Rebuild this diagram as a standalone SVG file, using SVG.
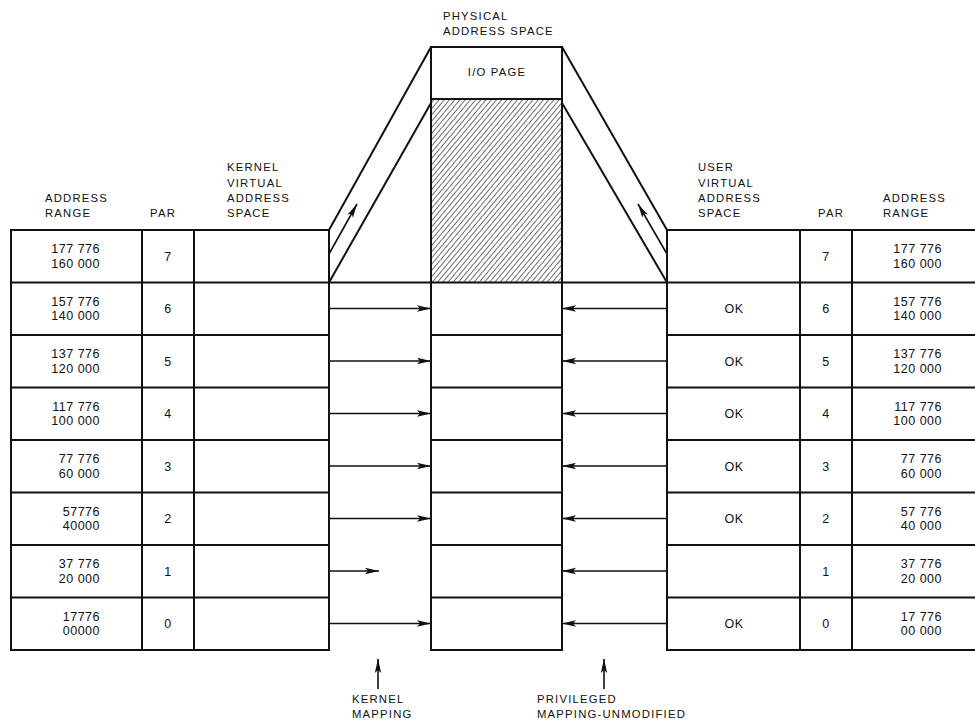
<svg xmlns="http://www.w3.org/2000/svg" width="975" height="723" viewBox="0 0 975 723">
<style>
.ln{stroke:#111;stroke-width:2;fill:none}
.ar{stroke:#111;stroke-width:1.6;fill:none;marker-end:url(#ah)}
.hd{font-family:"Liberation Sans",Arial,sans-serif;font-size:11.3px;letter-spacing:1.2px;fill:#111}
.num{font-family:"Liberation Sans",Arial,sans-serif;font-size:12.5px;letter-spacing:0.5px;fill:#111}
.c{text-anchor:middle}
.e{text-anchor:end}
</style>
<defs>
<marker id="ah" markerUnits="userSpaceOnUse" markerWidth="16" markerHeight="9" refX="14" refY="4" orient="auto">
<path d="M0,0.8 L14,4 L0,7.2 L3,4 z" fill="#111"/>
</marker>
<pattern id="hatch" patternUnits="userSpaceOnUse" width="4" height="4" patternTransform="rotate(40)">
<line x1="0" y1="0" x2="0" y2="4" stroke="#222" stroke-width="1.3"/>
</pattern>
</defs>
<rect width="975" height="723" fill="#fff"/>

<g id="headers">
<text class="hd" x="45" y="202">ADDRESS</text>
<text class="hd" x="45" y="217">RANGE</text>
<text class="hd" x="150" y="217">PAR</text>
<text class="hd" x="227" y="171">KERNEL</text>
<text class="hd" x="227" y="187">VIRTUAL</text>
<text class="hd" x="227" y="202">ADDRESS</text>
<text class="hd" x="227" y="217">SPACE</text>
<text class="hd" x="443" y="20">PHYSICAL</text>
<text class="hd" x="443" y="35">ADDRESS SPACE</text>
<text class="hd" x="698" y="171">USER</text>
<text class="hd" x="698" y="187">VIRTUAL</text>
<text class="hd" x="698" y="202">ADDRESS</text>
<text class="hd" x="698" y="217">SPACE</text>
<text class="hd" x="818" y="217">PAR</text>
<text class="hd" x="883" y="202">ADDRESS</text>
<text class="hd" x="883" y="217">RANGE</text>
</g>

<g id="kernel-table">
<rect class="ln" x="11" y="230" width="318" height="420"/>
<path class="ln" d="M142,230V650 M194,230V650 M11,335H329 M11,387.5H329 M11,440H329 M11,492.5H329 M11,545H329 M11,597.5H329"/>
<g class="num e">
<text x="100" y="253">177 776</text><text x="100" y="267.5">160 000</text>
<text x="100" y="305.5">157 776</text><text x="100" y="320">140 000</text>
<text x="100" y="358">137 776</text><text x="100" y="372.5">120 000</text>
<text x="100" y="410.5">117 776</text><text x="100" y="425">100 000</text>
<text x="100" y="463">77 776</text><text x="100" y="477.5">60 000</text>
<text x="100" y="515.5">57776</text><text x="100" y="530">40000</text>
<text x="100" y="568">37 776</text><text x="100" y="582.5">20 000</text>
<text x="100" y="620.5">17776</text><text x="100" y="635">00000</text>
</g>
<g class="num c">
<text x="168" y="260.5">7</text><text x="168" y="313">6</text><text x="168" y="365.5">5</text><text x="168" y="418">4</text>
<text x="168" y="470.5">3</text><text x="168" y="523">2</text><text x="168" y="575.5">1</text><text x="168" y="628">0</text>
</g>
</g>

<g id="physical-space">
<rect x="431" y="99" width="131" height="183.5" fill="url(#hatch)"/>
<rect class="ln" x="431" y="47" width="131" height="603"/>
<path class="ln" d="M431,99H562 M431,335H562 M431,387.5H562 M431,440H562 M431,492.5H562 M431,545H562 M431,597.5H562"/>
<text class="hd c" x="497" y="76">I/O PAGE</text>
</g>

<g id="user-table">
<path class="ln" d="M975,230H667V650H975 M800,230V650 M852,230V650 M667,335H975 M667,387.5H975 M667,440H975 M667,492.5H975 M667,545H975 M667,597.5H975"/>
<g class="num e">
<text x="942" y="253">177 776</text><text x="942" y="267.5">160 000</text>
<text x="942" y="305.5">157 776</text><text x="942" y="320">140 000</text>
<text x="942" y="358">137 776</text><text x="942" y="372.5">120 000</text>
<text x="942" y="410.5">117 776</text><text x="942" y="425">100 000</text>
<text x="942" y="463">77 776</text><text x="942" y="477.5">60 000</text>
<text x="942" y="515.5">57 776</text><text x="942" y="530">40 000</text>
<text x="942" y="568">37 776</text><text x="942" y="582.5">20 000</text>
<text x="942" y="620.5">17 776</text><text x="942" y="635">00 000</text>
</g>
<g class="num c">
<text x="826" y="260.5">7</text><text x="826" y="313">6</text><text x="826" y="365.5">5</text><text x="826" y="418">4</text>
<text x="826" y="470.5">3</text><text x="826" y="523">2</text><text x="826" y="575.5">1</text><text x="826" y="628">0</text>
<text x="734" y="313">OK</text><text x="734" y="365.5">OK</text><text x="734" y="418">OK</text>
<text x="734" y="470.5">OK</text><text x="734" y="523">OK</text><text x="734" y="628">OK</text>
</g>
</g>

<g id="connectors">
<path class="ln" d="M11,282.5H975"/>
<path class="ln" d="M431,47L329,230 M431,103L329,282.5 M562,47L667,230 M562,103L667,282.5"/>
<line class="ar" x1="329" y1="254" x2="357" y2="204"/>
<line class="ar" x1="667" y1="254" x2="638" y2="204"/>
<line class="ar" x1="329" y1="308.5" x2="431" y2="308.5"/>
<line class="ar" x1="329" y1="361" x2="431" y2="361"/>
<line class="ar" x1="329" y1="413.5" x2="431" y2="413.5"/>
<line class="ar" x1="329" y1="466" x2="431" y2="466"/>
<line class="ar" x1="329" y1="518.5" x2="431" y2="518.5"/>
<line class="ar" x1="329" y1="571" x2="379" y2="571"/>
<line class="ar" x1="329" y1="623.5" x2="431" y2="623.5"/>
<line class="ar" x1="667" y1="308.5" x2="562" y2="308.5"/>
<line class="ar" x1="667" y1="361" x2="562" y2="361"/>
<line class="ar" x1="667" y1="413.5" x2="562" y2="413.5"/>
<line class="ar" x1="667" y1="466" x2="562" y2="466"/>
<line class="ar" x1="667" y1="518.5" x2="562" y2="518.5"/>
<line class="ar" x1="667" y1="571" x2="562" y2="571"/>
<line class="ar" x1="667" y1="623.5" x2="562" y2="623.5"/>
<line class="ar" x1="378" y1="689" x2="378" y2="659"/>
<line class="ar" x1="604" y1="689" x2="604" y2="659"/>
</g>

<g id="bottom-labels">
<text class="hd" x="352" y="703">KERNEL</text>
<text class="hd" x="352" y="718">MAPPING</text>
<text class="hd" x="537" y="703">PRIVILEGED</text>
<text class="hd" x="537" y="718">MAPPING-UNMODIFIED</text>
</g>
</svg>
